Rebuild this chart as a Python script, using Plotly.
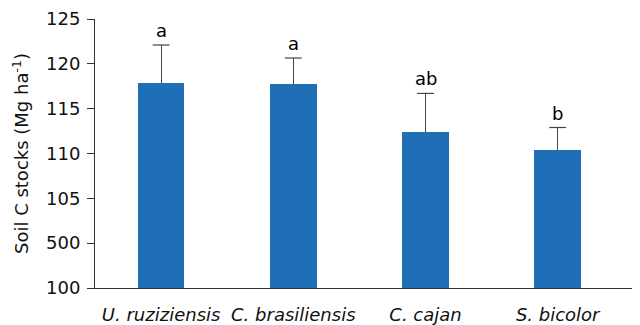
import plotly.graph_objects as go

categories = ["U. ruziziensis", "C. brasiliensis", "C. cajan", "S. bicolor"]
means = [117.9, 117.75, 112.4, 110.4]
errors = [4.2, 2.9, 4.3, 2.5]
letters = ["a", "a", "ab", "b"]
tick_vals = [95, 100, 105, 110, 115, 120, 125]
tick_text = ["100", "500", "105", "110", "115", "120", "125"]

x_idx = list(range(len(categories)))
base = tick_vals[0]
FONT = "DejaVu Sans, Arial, sans-serif"
ERR_COLOR = "#444444"

fig = go.Figure()
fig.add_trace(go.Bar(
    x=x_idx,
    y=[m - base for m in means],
    base=base,
    width=0.353,
    marker=dict(color="#1f6fb7", line=dict(width=0)),
    error_y=dict(type="data", array=errors, symmetric=False, arrayminus=[0]*4,
                 color=ERR_COLOR, thickness=1.2, width=0),
))
# top caps of the error bars
fig.add_trace(go.Scatter(
    x=x_idx,
    y=[m + e for m, e in zip(means, errors)],
    mode="markers",
    marker=dict(symbol="line-ew", size=12, color=ERR_COLOR,
                line=dict(width=1.2, color=ERR_COLOR)),
    hoverinfo="skip",
))

for i, (m, e, l) in enumerate(zip(means, errors, letters)):
    fig.add_annotation(x=i, y=m + e, text=l, showarrow=False, yanchor="bottom",
                       yshift=2, font=dict(size=18, color="#000000", family=FONT))

fig.update_layout(
    width=640, height=325,
    margin=dict(l=87, r=0, t=11, b=45, autoexpand=False),
    paper_bgcolor="white", plot_bgcolor="white",
    showlegend=False,
    font=dict(family=FONT, color="#111111", size=18),
    bargap=0,
)
fig.update_xaxes(
    range=[-0.5, 3.683],
    tickvals=x_idx,
    ticktext=["<i>%s</i>" % c for c in categories],
    tickfont=dict(size=18),
    showline=True, linecolor="#333333", linewidth=1,
    ticks="", showgrid=False, zeroline=False,
    ticklabelstandoff=10,
    automargin=False,
)
fig.update_yaxes(
    range=[95, 125],
    tickvals=tick_vals, ticktext=tick_text,
    tickfont=dict(size=18),
    showline=True, linecolor="#333333", linewidth=1,
    ticks="outside", ticklen=7, tickcolor="#333333", tickwidth=1,
    ticklabelstandoff=3,
    showgrid=False, zeroline=False,
    automargin=False,
    title=dict(text="Soil C stocks (Mg ha<sup>-1</sup>)", font=dict(size=18), standoff=12),
)

fig.write_html("out.html")
